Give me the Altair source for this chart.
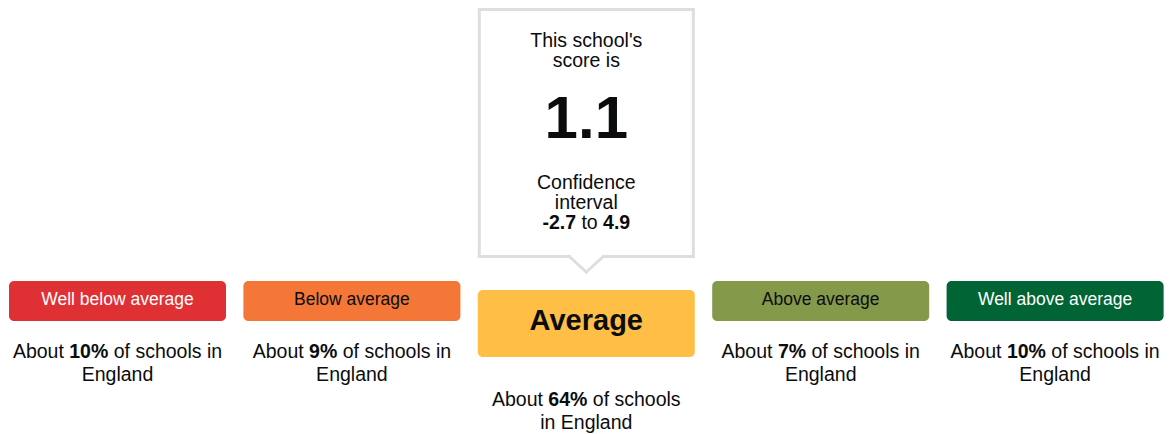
import altair as alt
import pandas as pd

# ---------------- data ----------------
categories = ["Well below average", "Below average", "Average", "Above average", "Well above average"]
shares = ["10%", "9%", "64%", "7%", "10%"]
box_colors = ["#df3034", "#f47738", "#ffbf47", "#85994b", "#006435"]
label_colors = ["#ffffff", "#0b0c0c", "#0b0c0c", "#0b0c0c", "#ffffff"]
line1_suffix = ["of schools in", "of schools in", "of schools", "of schools in", "of schools in"]
line2_text = ["England", "England", "in England", "England", "England"]
score = "1.1"
ci_low = "-2.7"
ci_high = "4.9"
current_band = 2

# ---------------- layout ----------------
W, H = 1170, 434
FONT = "Liberation Sans"
DARK = "#0b0c0c"
BOX_LEFT, BOX_STEP, BOX_W = 9, 234.4, 217
BODY = 19.5

REG = {" ": 278, "'": 191, "-": 333, ".": 278, "%": 889, "A": 667, "B": 667, "C": 722, "E": 667,
       "T": 611, "W": 944, "a": 556, "b": 556, "c": 500, "d": 556, "e": 556, "f": 278, "g": 556,
       "h": 556, "i": 222, "l": 222, "n": 556, "o": 556, "r": 333, "s": 500, "t": 278, "u": 556,
       "v": 500, "w": 722}
BOLD = {" ": 278, "-": 333, ".": 278, "%": 889, "A": 722, "v": 556, "e": 556, "r": 389, "a": 556,
        "g": 611, "t": 333, "o": 611}
for d in "0123456789":
    REG[d] = 556
    BOLD[d] = 556


def tw(text, size, bold=False):
    table = BOLD if bold else REG
    return sum(table.get(c, 556) for c in text) * size / 1000.0


rows = []  # text segments


def add_line(segments, cx, y, size):
    """segments: list of (text, bold, color)"""
    if len(segments) == 1:
        t, b, col = segments[0]
        rows.append(dict(text=t, x=cx, y=y, size=size, bold=b, align="center", color=col))
        return
    gap = tw(" ", size)
    widths = [tw(t, size, b) for t, b, _ in segments]
    total = sum(widths) + gap * (len(segments) - 1)
    x = cx - total / 2
    for (t, b, col), w in zip(segments, widths):
        rows.append(dict(text=t, x=x, y=y, size=size, bold=b, align="left", color=col))
        x += w + gap


boxes = []
for i, cat in enumerate(categories):
    x0 = BOX_LEFT + i * BOX_STEP
    cx = x0 + BOX_W / 2
    if i == current_band:
        boxes.append(dict(x=x0, x2=x0 + BOX_W, y=290, y2=357, color=box_colors[i]))
        add_line([(cat, True, label_colors[i])], cx, 330, 29)
        base = 405.5
    else:
        boxes.append(dict(x=x0, x2=x0 + BOX_W, y=281, y2=321, color=box_colors[i]))
        add_line([(cat, False, label_colors[i])], cx, 305, 17.5)
        base = 358
    add_line([("About", False, DARK), (shares[i], True, DARK), (line1_suffix[i], False, DARK)], cx, base, BODY)
    add_line([(line2_text[i], False, DARK)], cx, base + 23, BODY)

# callout above the current band
cx0 = BOX_LEFT + current_band * BOX_STEP
cl, cr = cx0 + 1.5, cx0 + BOX_W - 1.5
ccx = (cl + cr) / 2
ct, cb = 9.5, 256.5
tip_y, half = 272, 17
segs = [
    (cl, ct, cr, ct), (cl, ct, cl, cb), (cr, ct, cr, cb),
    (cl, cb, ccx - half, cb), (ccx + half, cb, cr, cb),
    (ccx - half, cb, ccx, tip_y), (ccx, tip_y, ccx + half, cb),
]
outline = pd.DataFrame([dict(x=a, y=b, x2=c, y2=d) for a, b, c, d in segs])

add_line([("This school's", False, DARK)], ccx, 47, BODY)
add_line([("score is", False, DARK)], ccx, 67, BODY)
add_line([(score, True, DARK)], ccx, 138, 60)
add_line([("Confidence", False, DARK)], ccx, 189, BODY)
add_line([("interval", False, DARK)], ccx, 209, BODY)
add_line([(ci_low, True, DARK), ("to", False, DARK), (ci_high, True, DARK)], ccx, 229, BODY)

texts = pd.DataFrame(rows)
box_df = pd.DataFrame(boxes)

xs = alt.Scale(domain=[0, W], nice=False, zero=False)
ys = alt.Scale(domain=[0, H], nice=False, zero=False, reverse=True)

box_layer = alt.Chart(box_df).mark_rect(cornerRadius=5).encode(
    x=alt.X("x:Q", scale=xs, axis=None), x2="x2:Q",
    y=alt.Y("y:Q", scale=ys, axis=None), y2="y2:Q",
    color=alt.Color("color:N", scale=None),
)

outline_layer = alt.Chart(outline).mark_rule(color="#dedede", strokeWidth=3, strokeCap="square").encode(
    x=alt.X("x:Q", scale=xs, axis=None), x2="x2:Q",
    y=alt.Y("y:Q", scale=ys, axis=None), y2="y2:Q",
)

text_layers = []
for (bold, align, size, color), df in texts.groupby(["bold", "align", "size", "color"]):
    text_layers.append(
        alt.Chart(df[["x", "y", "text"]].reset_index(drop=True)).mark_text(
            font=FONT, fontWeight="bold" if bold else "normal", align=align,
            baseline="alphabetic", fontSize=float(size), color=color,
        ).encode(
            x=alt.X("x:Q", scale=xs, axis=None),
            y=alt.Y("y:Q", scale=ys, axis=None),
            text="text:N",
        )
    )

chart = alt.layer(box_layer, outline_layer, *text_layers).properties(
    width=W, height=H, padding=0, autosize="none", background="white"
).configure_view(stroke=None)

chart.save("out.html", embed_options={"renderer": "svg", "actions": False})
